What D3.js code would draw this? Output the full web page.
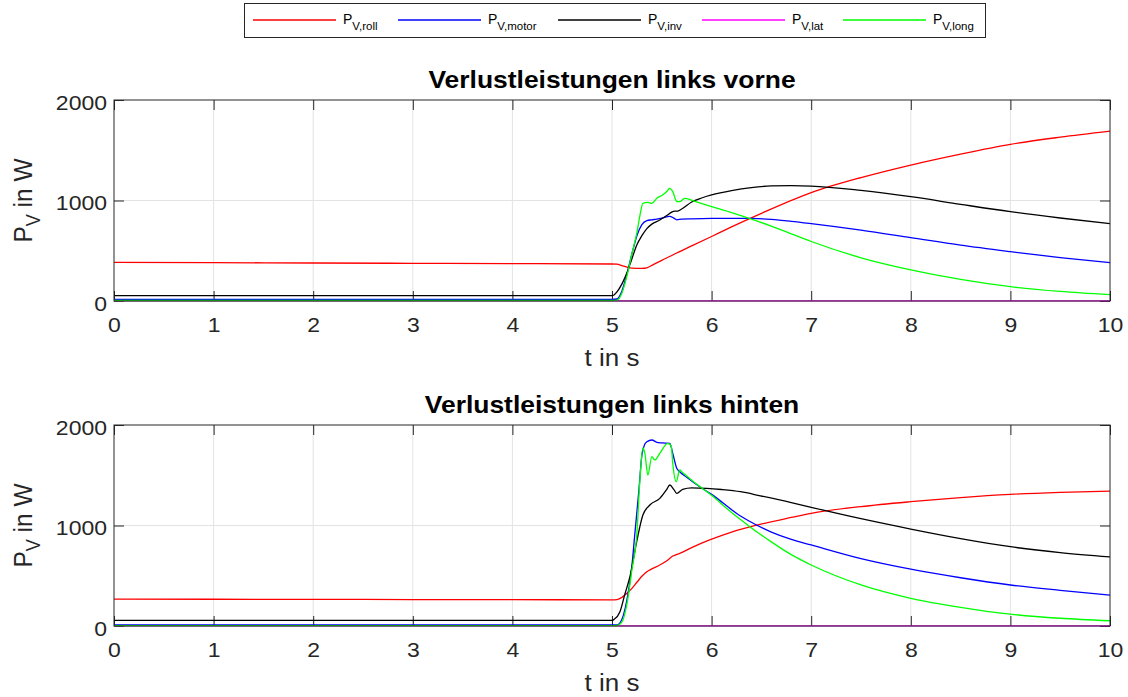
<!DOCTYPE html>
<html>
<head>
<meta charset="utf-8">
<script src="https://cdn.jsdelivr.net/npm/d3@7"></script>
<style>
  body { margin: 0; background: #ffffff; }
  svg { display: block; font-family: "Liberation Sans", Arial, Helvetica, sans-serif; }
</style>
</head>
<body>
<svg id="chart" width="1128" height="697"></svg>
<script>
// ---- data: power losses [t in s, P in W] per loss component ----
const seriesKeys   = ["roll", "motor", "inv", "lat", "long"];
const seriesLabels = ["V,roll", "V,motor", "V,inv", "V,lat", "V,long"];
const seriesColors = ["#ff0000", "#0000ff", "#000000", "#ff00ff", "#00ff00"];

const xTickValues = [0, 1, 2, 3, 4, 5, 6, 7, 8, 9, 10];
const yTickValues = [0, 1000, 2000];
const panelTitles = ["Verlustleistungen links vorne", "Verlustleistungen links hinten"];

// front left wheel
const rollFront = [[0,385],[1,382],[2,378],[3,375],[4,372],[5,368],[5.05,366],[5.1,352],[5.15,338],[5.2,328],[5.3,325],[5.35,330],[5.4,355],[5.5,405],[5.6,453],[5.65,478],[5.8,548],[6,642],[6.2,737],[6.5,872],[7,1078],[7.5,1228],[8,1353],[8.5,1462],[9,1559],[9.5,1630],[10,1690]];
const motorFront = [[0,15],[5,15],[5.05,20],[5.1,100],[5.15,270],[5.2,470],[5.25,650],[5.3,760],[5.35,800],[5.4,808],[5.45,815],[5.5,825],[5.55,838],[5.58,842],[5.62,825],[5.65,808],[5.7,815],[5.8,818],[6,822],[6.2,823],[6.4,822],[6.6,812],[6.8,793],[7,770],[7.5,705],[8,630],[8.5,555],[9,491],[9.5,432],[10,381]];
const invFront = [[0,53],[5,53],[5.02,60],[5.05,90],[5.1,170],[5.15,280],[5.2,420],[5.25,560],[5.3,650],[5.35,720],[5.4,765],[5.48,806],[5.55,850],[5.6,885],[5.63,895],[5.66,895],[5.7,915],[5.8,985],[5.9,1025],[6,1055],[6.2,1098],[6.4,1128],[6.6,1145],[6.8,1148],[7,1144],[7.5,1100],[8,1038],[8.5,962],[9,889],[9.5,826],[10,769]];
const latFront = [[0,1],[5,1],[10,1]];
const longFront = [[0,5],[5,5],[5.05,8],[5.1,80],[5.15,250],[5.2,470],[5.25,680],[5.28,850],[5.31,972],[5.36,982],[5.4,972],[5.45,1022],[5.5,1050],[5.55,1090],[5.58,1121],[5.61,1088],[5.65,990],[5.68,988],[5.73,1022],[5.81,998],[6,940],[6.2,880],[6.4,815],[6.6,745],[6.8,668],[7,592],[7.5,430],[8,310],[8.5,215],[9,143],[9.5,95],[10,63]];

// rear left wheel
const rollRear = [[0,268],[1,266],[2,265],[3,263],[4,262],[5,260],[5.05,263],[5.1,285],[5.15,325],[5.2,375],[5.25,435],[5.3,495],[5.35,540],[5.4,568],[5.48,607],[5.55,650],[5.61,696],[5.68,723],[5.8,780],[5.98,856],[6.2,935],[6.45,1003],[6.8,1080],[7,1121],[7.5,1188],[8,1237],[8.5,1278],[9,1310],[9.5,1330],[10,1343]];
const motorRear = [[0,10],[5,10],[5.05,12],[5.08,30],[5.15,259],[5.2,600],[5.23,925],[5.27,1350],[5.3,1700],[5.33,1810],[5.35,1834],[5.4,1851],[5.45,1828],[5.5,1822],[5.58,1818],[5.61,1718],[5.65,1569],[5.68,1535],[5.75,1480],[5.88,1386],[6,1310],[6.29,1094],[6.45,1005],[6.6,935],[6.8,862],[7,806],[7.5,670],[8,565],[8.5,480],[9,408],[9.5,355],[10,308]];
const invRear = [[0,55],[5,55],[5.02,65],[5.08,142],[5.13,320],[5.18,490],[5.25,850],[5.31,1104],[5.38,1204],[5.48,1270],[5.55,1360],[5.58,1403],[5.62,1360],[5.65,1320],[5.71,1360],[5.8,1375],[5.95,1370],[6.1,1358],[6.29,1336],[6.49,1295],[6.8,1228],[7,1181],[7.5,1068],[8,965],[8.5,870],[9,789],[9.5,730],[10,687]];
const latRear = [[0,1],[5,1],[10,1]];
const longRear = [[0,3],[5,3],[5.05,5],[5.1,40],[5.15,220],[5.2,560],[5.25,925],[5.28,1450],[5.31,1771],[5.33,1718],[5.36,1502],[5.4,1685],[5.43,1652],[5.48,1718],[5.56,1818],[5.595,1790],[5.61,1618],[5.645,1436],[5.68,1552],[5.7,1535],[5.8,1450],[6,1300],[6.2,1130],[6.29,1060],[6.4,975],[6.6,837],[6.8,710],[7,607],[7.5,409],[8,276],[8.5,186],[9,118],[9.5,77],[10,52]];

const panelSeries = [
  [rollFront, motorFront, invFront, latFront, longFront],
  [rollRear, motorRear, invRear, latRear, longRear]
];

// ---- layout ----
const svg = d3.select("#chart");
const axisColor = "#262626";
const gridColor = "#e3e3e3";
const plotLeft = 114, plotRight = 1110, plotHeight = 201;
const panelTop = [100, 425];
const titleBaseline = [88, 413];
const xLabelBaseline = [366, 691];
const tickLen = 10;
const textStretch = 1.15;   // horizontally widened glyphs for axis texts

svg.append("rect").attr("width", 1128).attr("height", 697).attr("fill", "#fff");

panelTop.forEach((top, p) => {
  const x = d3.scaleLinear().domain([0, 10]).range([plotLeft, plotRight]);
  const y = d3.scaleLinear().domain([0, 2000]).range([top + plotHeight, top]);
  const g = svg.append("g");

  // grid
  g.append("g").selectAll("line").data(xTickValues.slice(1, -1)).join("line")
    .attr("x1", d => x(d)).attr("x2", d => x(d))
    .attr("y1", top).attr("y2", top + plotHeight)
    .attr("stroke", gridColor).attr("stroke-width", 1);
  g.append("g").selectAll("line").data(yTickValues.slice(1, -1)).join("line")
    .attr("x1", plotLeft).attr("x2", plotRight)
    .attr("y1", d => y(d)).attr("y2", d => y(d))
    .attr("stroke", gridColor).attr("stroke-width", 1);

  // axes with inward ticks on all four sides
  const fmt = d3.format("d");
  const axB = g.append("g").attr("transform", `translate(0,${top + plotHeight})`)
    .call(d3.axisBottom(x).tickValues(xTickValues).tickFormat(fmt).tickSizeInner(-tickLen).tickSizeOuter(0).tickPadding(17));
  const axT = g.append("g").attr("transform", `translate(0,${top})`)
    .call(d3.axisTop(x).tickValues(xTickValues).tickSizeInner(-tickLen).tickSizeOuter(0).tickFormat(""));
  const axL = g.append("g").attr("transform", `translate(${plotLeft},0)`)
    .call(d3.axisLeft(y).tickValues(yTickValues).tickFormat(fmt).tickSizeInner(-tickLen).tickSizeOuter(0).tickPadding(7));
  const axR = g.append("g").attr("transform", `translate(${plotRight},0)`)
    .call(d3.axisRight(y).tickValues(yTickValues).tickSizeInner(-tickLen).tickSizeOuter(0).tickFormat(""));
  [axB, axT, axL, axR].forEach(a => {
    a.select(".domain").remove();
    a.selectAll(".tick line").attr("stroke", axisColor).attr("stroke-width", 1);
    a.selectAll("text").attr("fill", axisColor).attr("font-size", 20)
      .attr("font-family", '"Liberation Sans", Arial, sans-serif');
  });
  axB.selectAll(".tick text").attr("transform", `scale(${textStretch},1)`);
  axL.selectAll(".tick text").attr("dy", "0.45em")
    .attr("x", -7 / textStretch).attr("transform", `scale(${textStretch},1)`);

  // series lines
  const line = d3.line().x(d => x(d[0])).y(d => y(d[1])).curve(d3.curveMonotoneX);
  panelSeries[p].forEach((data, i) => {
    g.append("path").datum(data)
      .attr("fill", "none")
      .attr("stroke", seriesColors[i])
      .attr("stroke-width", 1.3)
      .attr("stroke-linejoin", "round")
      .attr("d", line);
  });

  // box
  g.append("rect")
    .attr("x", plotLeft).attr("y", top)
    .attr("width", plotRight - plotLeft).attr("height", plotHeight)
    .attr("fill", "none").attr("stroke", axisColor).attr("stroke-width", 1);

  // title
  g.append("text")
    .attr("transform", `translate(${(plotLeft + plotRight) / 2},${titleBaseline[p]}) scale(${textStretch},1)`)
    .attr("text-anchor", "middle").attr("font-size", 23).attr("font-weight", "bold")
    .attr("fill", "#000").text(panelTitles[p]);

  // x label
  g.append("text")
    .attr("transform", `translate(${(plotLeft + plotRight) / 2},${xLabelBaseline[p]}) scale(1.13,1)`)
    .attr("text-anchor", "middle").attr("font-size", 23).attr("fill", axisColor)
    .text("t in s");

  // y label
  const yl = g.append("text")
    .attr("transform", `translate(32,${top + plotHeight / 2}) rotate(-90) scale(1,1.08)`)
    .attr("text-anchor", "middle").attr("font-size", 24.5).attr("fill", axisColor);
  yl.append("tspan").text("P");
  yl.append("tspan").attr("dy", 7).attr("font-size", 18).text("V");
  yl.append("tspan").attr("dy", -7).text(" in W");
});

// ---- legend ----
const legend = svg.append("g");
legend.append("rect")
  .attr("x", 244.5).attr("y", 3.5).attr("width", 741).attr("height", 34)
  .attr("fill", "#fff").attr("stroke", axisColor).attr("stroke-width", 1);
const legendX = [253, 398, 558, 702, 843];
seriesKeys.forEach((k, i) => {
  const lx = legendX[i];
  legend.append("line")
    .attr("x1", lx).attr("x2", lx + 83).attr("y1", 20).attr("y2", 20)
    .attr("stroke", seriesColors[i]).attr("stroke-width", 1.3);
  const t = legend.append("text").attr("x", lx + 90).attr("y", 23.5)
    .attr("font-size", 14).attr("fill", "#000");
  t.append("tspan").text("P");
  t.append("tspan").attr("dy", 6.5).attr("font-size", 11.5).text(seriesLabels[i]);
});
</script>
</body>
</html>
